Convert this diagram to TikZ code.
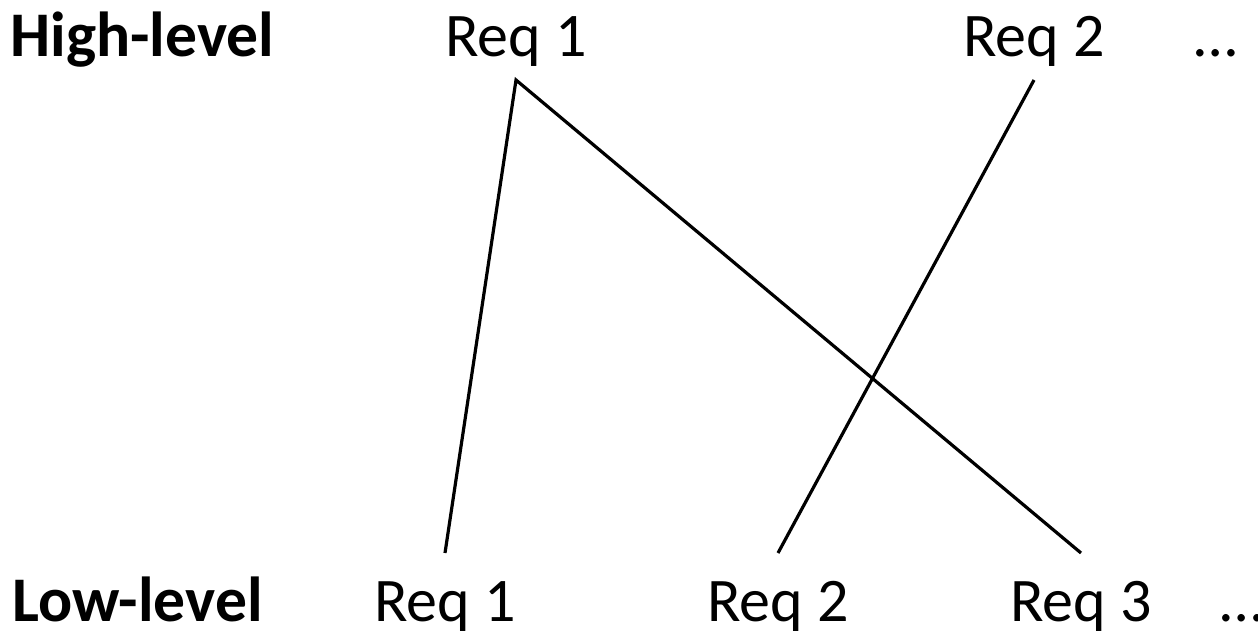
\documentclass[tikz,border=0pt]{standalone}
\usepackage{fontspec}
\setmainfont{Carlito}
\begin{document}
\begin{tikzpicture}[x=0.5pt,y=-0.5pt,
  lbl/.style={inner sep=0pt, anchor=base, font=\fontsize{31}{37}\selectfont},
  head/.style={lbl, anchor=base west, font=\fontsize{31.8}{37}\selectfont\bfseries},
  link/.style={line width=1.6pt}]
\useasboundingbox (0,0) rectangle (1258,637);
% labels
\node[head] (hl) at (10,56) {High-level};
\node[head] (ll) at (12,621) {Low-level};
\node[lbl] (t1) at (516,56) {Req 1};
\node[lbl] (t2) at (1034,56) {Req 2};
\node[lbl] (tdots) at (1216,56) {…};
\node[lbl] (b1) at (445,621) {Req 1};
\node[lbl] (b2) at (778,621) {Req 2};
\node[lbl] (b3) at (1081,621) {Req 3};
\node[lbl] (bdots) at (1242,621) {…};
% line end levels
\coordinate (ytop) at (0,80);
\coordinate (ybot) at (0,553);
\coordinate (t1e) at (t1.center |- ytop);
\coordinate (t2e) at (t2.center |- ytop);
\coordinate (b1e) at (b1.center |- ybot);
\coordinate (b2e) at (b2.center |- ybot);
\coordinate (b3e) at (b3.center |- ybot);
\draw[link] (b1e) -- (t1e) -- (b3e);
\draw[link] (t2e) -- (b2e);
\end{tikzpicture}
\end{document}
